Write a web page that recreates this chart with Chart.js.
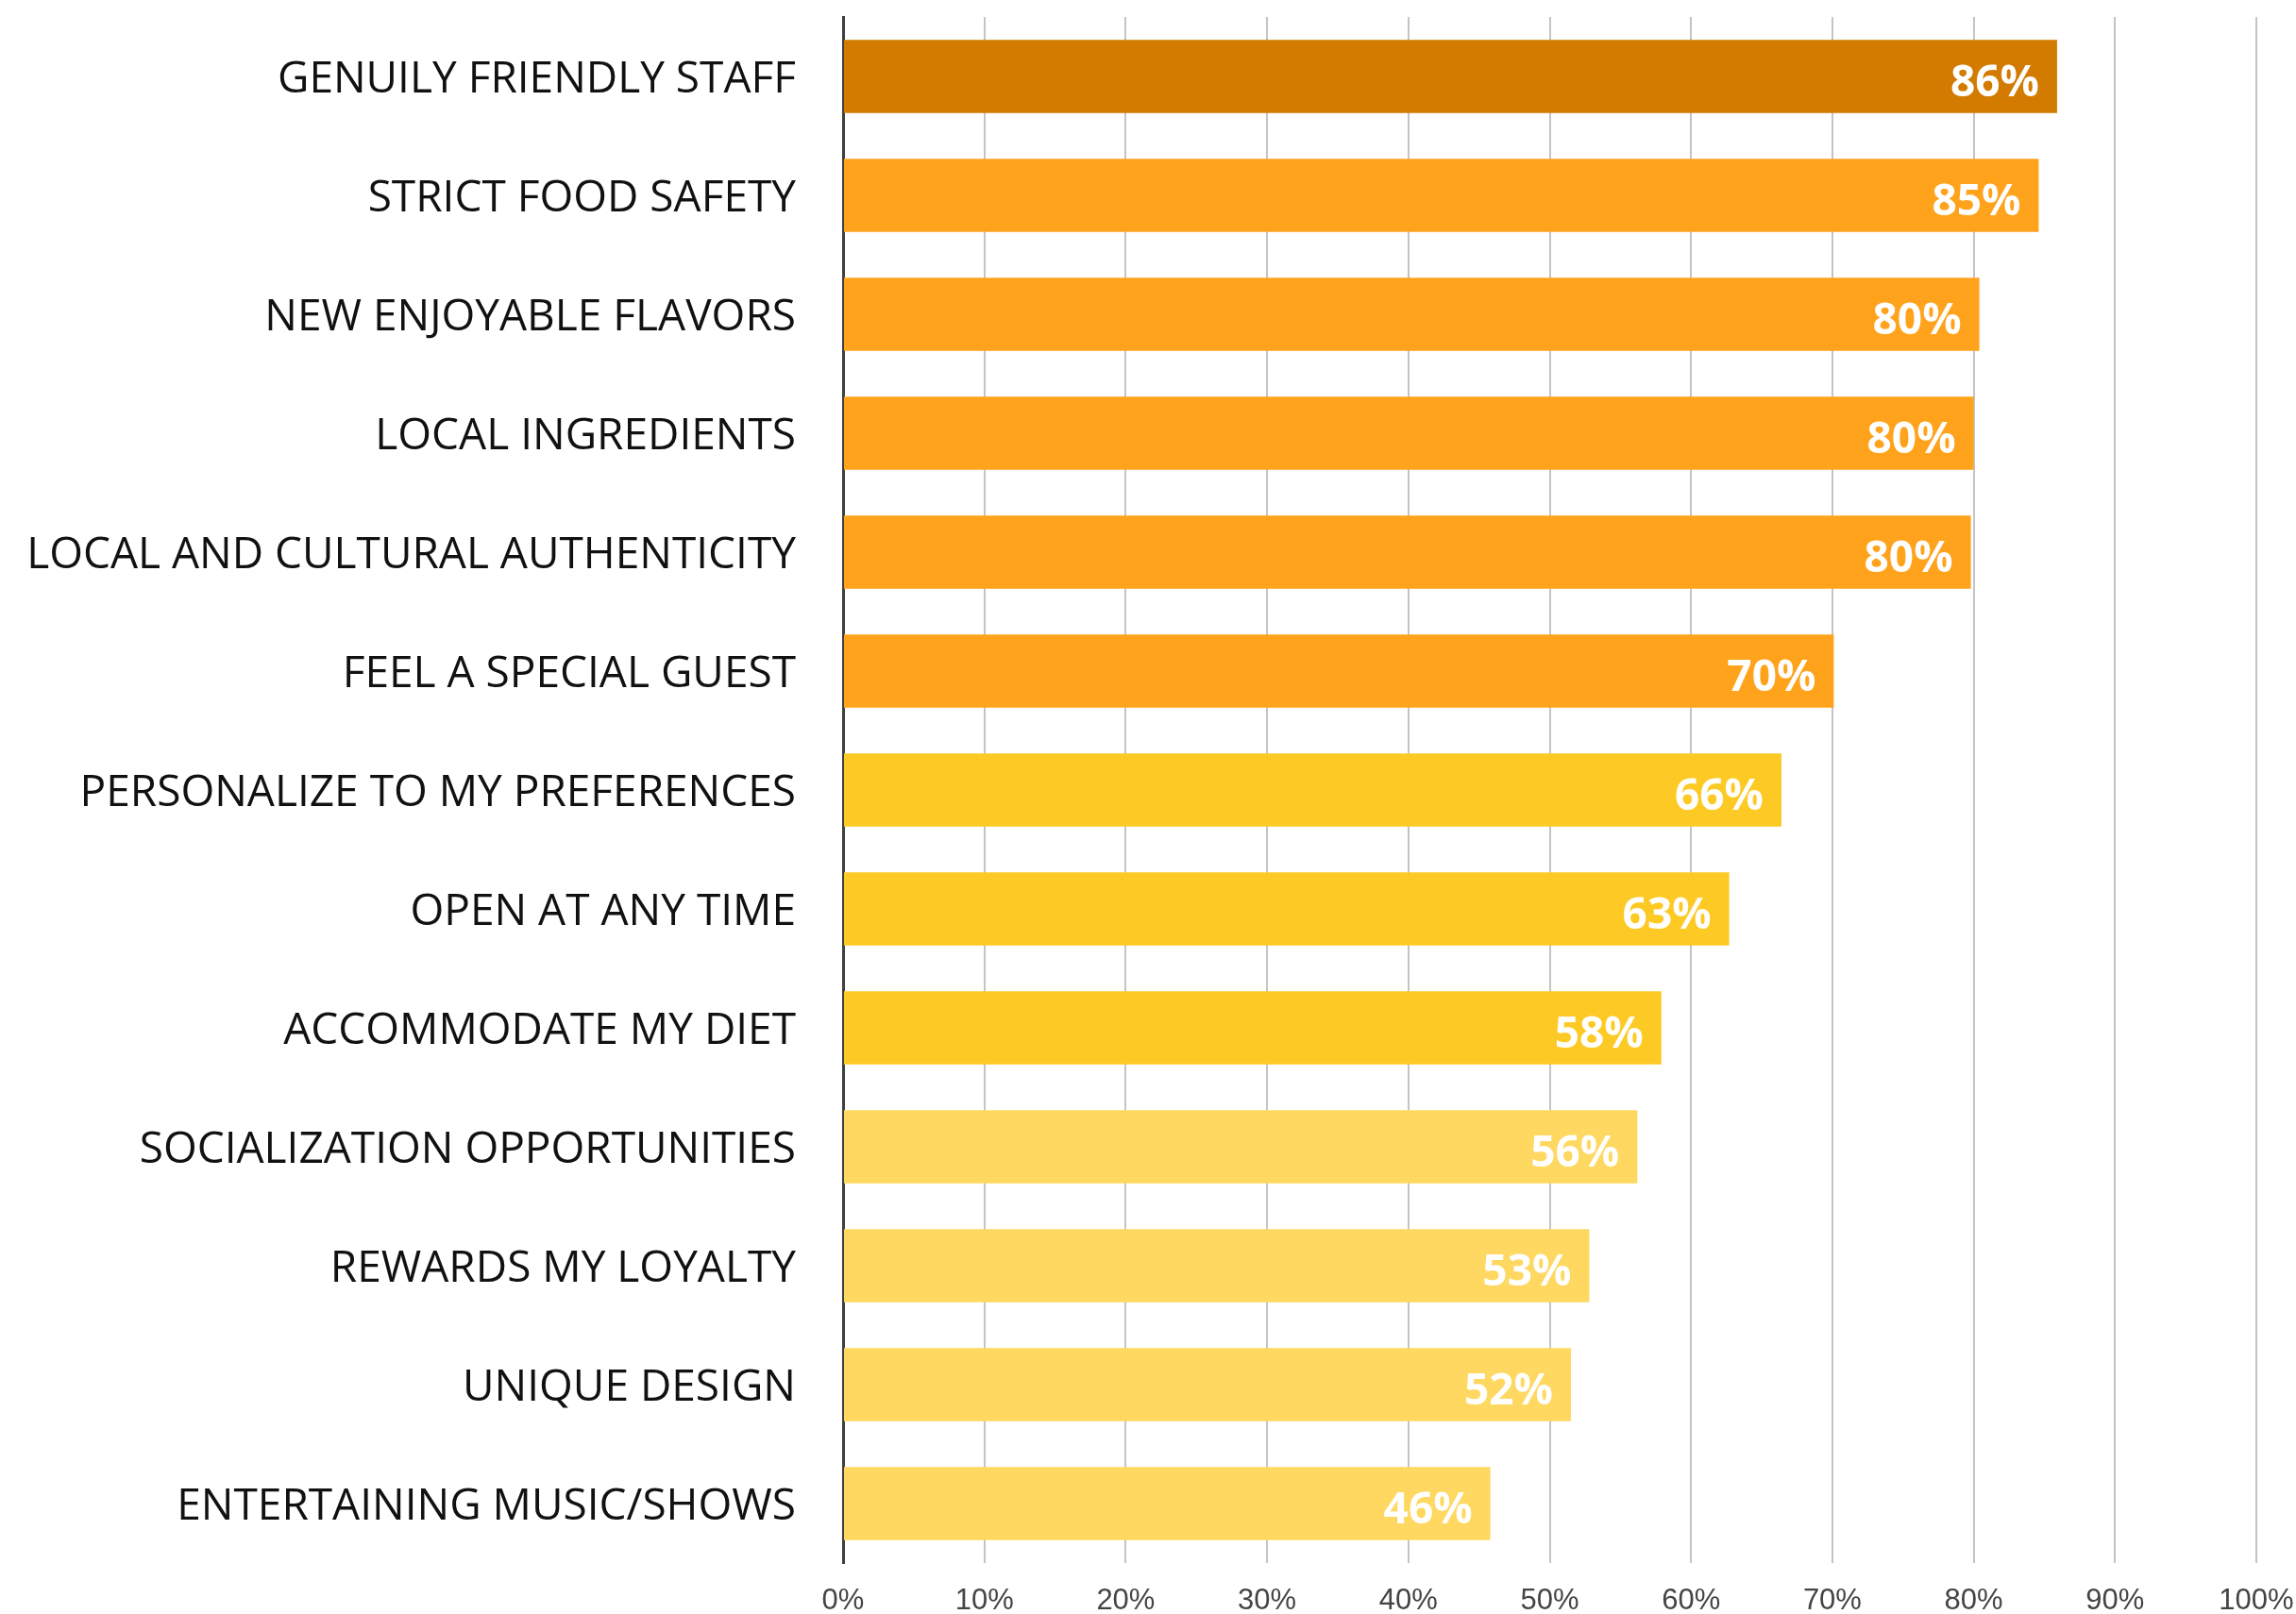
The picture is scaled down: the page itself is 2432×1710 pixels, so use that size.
<!DOCTYPE html>
<html>
<head>
<meta charset="utf-8">
<script src="https://cdn.jsdelivr.net/npm/chart.js@4"></script>
<style>
  html, body { margin: 0; padding: 0; background: #fff; }
  #wrap { width: 2432px; height: 1710px; position: relative; }
</style>
</head>
<body>
<div id="wrap"><canvas id="chart"></canvas></div>
<script>
// data (bar lengths, percent)
const categories = [
    "GENUILY FRIENDLY STAFF",
    "STRICT FOOD SAFETY",
    "NEW ENJOYABLE FLAVORS",
    "LOCAL INGREDIENTS",
    "LOCAL AND CULTURAL AUTHENTICITY",
    "FEEL A SPECIAL GUEST",
    "PERSONALIZE TO MY PREFERENCES",
    "OPEN AT ANY TIME",
    "ACCOMMODATE MY DIET",
    "SOCIALIZATION OPPORTUNITIES",
    "REWARDS MY LOYALTY",
    "UNIQUE DESIGN",
    "ENTERTAINING MUSIC/SHOWS"
];
const values = [85.9, 84.6, 80.4, 80.0, 79.8, 70.1, 66.4, 62.7, 57.9, 56.2, 52.8, 51.5, 45.8];
const valueLabels = ["86%", "85%", "80%", "80%", "80%", "70%", "66%", "63%", "58%", "56%", "53%", "52%", "46%"];
const barColors = [
    "#d27b00",
    "#ffa31c", "#ffa31c", "#ffa31c", "#ffa31c", "#ffa31c",
    "#fdca25", "#fdca25", "#fdca25",
    "#ffd861", "#ffd861", "#ffd861", "#ffd861"
];
const xTicks = [0, 10, 20, 30, 40, 50, 60, 70, 80, 90, 100];

const AXIS_LEFT = 893;
const CHART_BOTTOM = 1656;

// white value text at the end of each bar
const valueLabelPlugin = {
    id: 'valueLabels',
    afterDatasetsDraw(chart) {
        const ctx = chart.ctx;
        const meta = chart.getDatasetMeta(0);
        ctx.save();
        ctx.fillStyle = '#ffffff';
        ctx.font = 'bold 46px "Open Sans"';
        ctx.textAlign = 'right';
        ctx.textBaseline = 'middle';
        meta.data.forEach((bar, i) => {
            ctx.fillText(valueLabels[i], bar.x - 19, bar.y + 8);
        });
        ctx.restore();
    }
};

new Chart(document.getElementById('chart'), {
    type: 'bar',
    data: {
        labels: categories,
        datasets: [{
            data: values,
            backgroundColor: barColors,
            borderWidth: 0,
            categoryPercentage: 1.0,
            barPercentage: 0.615
        }]
    },
    options: {
        indexAxis: 'y',
        responsive: true,
        maintainAspectRatio: false,
        animation: false,
        layout: {
            padding: { top: 18, right: 42, left: 0, bottom: 0 }
        },
        plugins: {
            legend: { display: false },
            tooltip: { enabled: false }
        },
        scales: {
            x: {
                min: 0,
                max: 100,
                afterBuildTicks: (scale) => {
                    scale.ticks = xTicks.map(v => ({ value: v }));
                },
                afterFit: (scale) => {
                    scale.height = 1710 - CHART_BOTTOM;
                    scale.paddingLeft = 0;
                    scale.paddingRight = 0;
                },
                grid: {
                    color: '#c4c4c4',
                    lineWidth: 2,
                    drawTicks: false
                },
                border: { display: false },
                ticks: {
                    color: '#444444',
                    padding: 22,
                    font: { family: '"Liberation Sans", Arial', size: 31 },
                    callback: (v) => v + '%'
                }
            },
            y: {
                afterFit: (scale) => {
                    scale.width = AXIS_LEFT;
                    scale.paddingTop = 0;
                    scale.paddingBottom = 0;
                },
                grid: { display: false, drawTicks: false },
                border: { display: true, color: '#404040', width: 3 },
                ticks: {
                    color: '#111111',
                    padding: 50,
                    labelOffset: 4,
                    font: { family: '"Open Sans"', size: 46 }
                }
            }
        }
    },
    plugins: [valueLabelPlugin]
});
</script>
</body>
</html>
